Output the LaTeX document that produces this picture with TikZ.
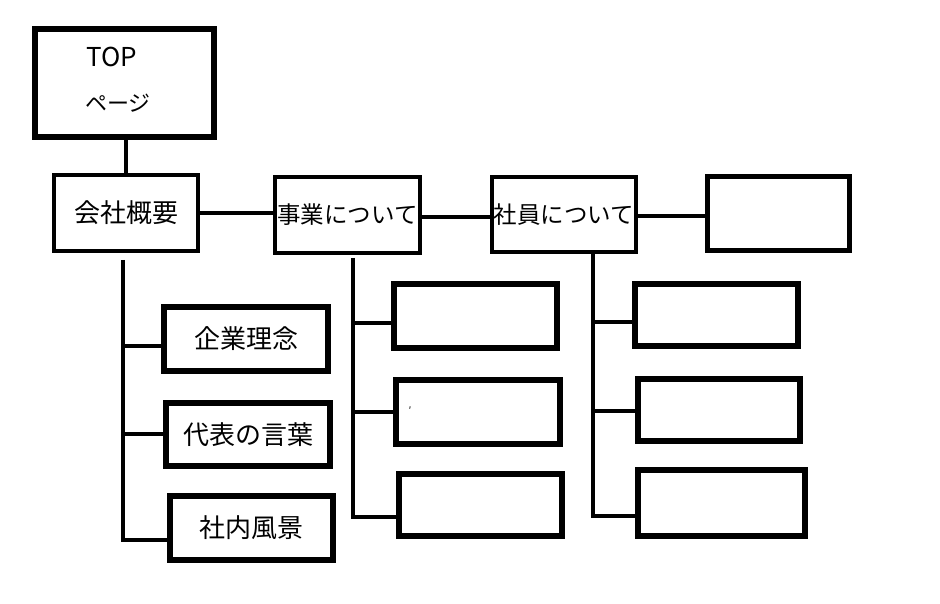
\documentclass[tikz,border=0pt]{standalone}
\usepackage{fontspec}
\setmainfont{Noto Sans CJK JP}
\begin{document}
\begin{tikzpicture}[x=1pt,y=-1pt,
  box/.style={draw=black, line width=4pt, rectangle, inner sep=0pt, fill=white},
  thickbox/.style={box, line width=5.5pt},
  lbl/.style={font=\fontsize{26}{30}\selectfont},
  lbls/.style={font=\fontsize{23.5}{28}\selectfont},
  conn/.style={draw=black, line width=4.5pt, line join=miter, line cap=butt}]
\fill[white] (0,0) rectangle (940,604);
\useasboundingbox (0,0) rectangle (940,604);
% top
\node[thickbox, minimum width=179, minimum height=108] (top) at (124.5,83) {};
\node[font=\fontsize{26}{30}\selectfont, inner sep=0pt] (topa) at (112,57) {TOP};
\node[font=\fontsize{22}{26}\selectfont, inner sep=0pt] (topb) at (118,103) {ページ};
% second row
\node[box, lbl, minimum width=144, minimum height=76] (kaisha) at (126,213) {会社概要};
\node[box, lbls, minimum width=145, minimum height=76] (jigyo) at (347.5,215) {事業について};
\node[box, lbls, minimum width=144, minimum height=75] (shain) at (564,214.5) {社員について};
\node[thickbox, minimum width=142, minimum height=74] (e0) at (778.5,213.5) {};
% left column
\node[thickbox, lbl, minimum width=164, minimum height=64] (kigyo) at (246,339) {企業理念};
\node[thickbox, lbl, minimum width=164, minimum height=63] (daihyo) at (248,434.5) {代表の言葉};
\node[thickbox, lbl, minimum width=163, minimum height=64] (shanai) at (251.5,528) {社内風景};
% middle column
\node[thickbox, minimum width=163, minimum height=64] (m1) at (475.5,316) {};
\node[thickbox, minimum width=164, minimum height=64] (m2) at (478,412) {};
\node[thickbox, minimum width=163, minimum height=62] (m3) at (480.5,505) {};
\node[font=\fontsize{10}{10}\selectfont, inner sep=0pt] (tick) at (410,411) {′};
% right column
\node[thickbox, minimum width=163, minimum height=62] (r1) at (716.5,315) {};
\node[thickbox, minimum width=162, minimum height=62] (r2) at (719,410) {};
\node[thickbox, minimum width=167, minimum height=66] (r3) at (721.5,503) {};
% connectors between top and second row
\draw[conn] (kaisha.north |- top.south) -- (kaisha.north);
\coordinate (h1) at (200,213);
\draw[conn] (kaisha.east |- h1) -- (jigyo.west |- h1);
\coordinate (h2) at (422,217);
\draw[conn] (jigyo.east |- h2) -- (shain.west |- h2);
\coordinate (h3) at (638,216);
\draw[conn] (shain.east |- h3) -- (e0.west |- h3);
% left trunk
\coordinate (k0) at (123,260);
\coordinate (k1) at (123,346);
\coordinate (k2) at (123,434);
\coordinate (k3) at (123,540);
\draw[conn] (k0) -- (k3) -- (shanai.west |- k3);
\draw[conn] (k1) -- (kigyo.west |- k1);
\draw[conn] (k2) -- (daihyo.west |- k2);
% middle trunk
\coordinate (j0) at (353,258);
\coordinate (j1) at (353,323);
\coordinate (j2) at (353,412);
\coordinate (j3) at (353,517);
\draw[conn] (j0) -- (j3) -- (m3.west |- j3);
\draw[conn] (j1) -- (m1.west |- j1);
\draw[conn] (j2) -- (m2.west |- j2);
% right trunk
\coordinate (s0) at (593,254);
\coordinate (s1) at (593,322);
\coordinate (s2) at (593,411);
\coordinate (s3) at (593,516);
\draw[conn] (s0) -- (s3) -- (r3.west |- s3);
\draw[conn] (s1) -- (r1.west |- s1);
\draw[conn] (s2) -- (r2.west |- s2);
\end{tikzpicture}
\end{document}
